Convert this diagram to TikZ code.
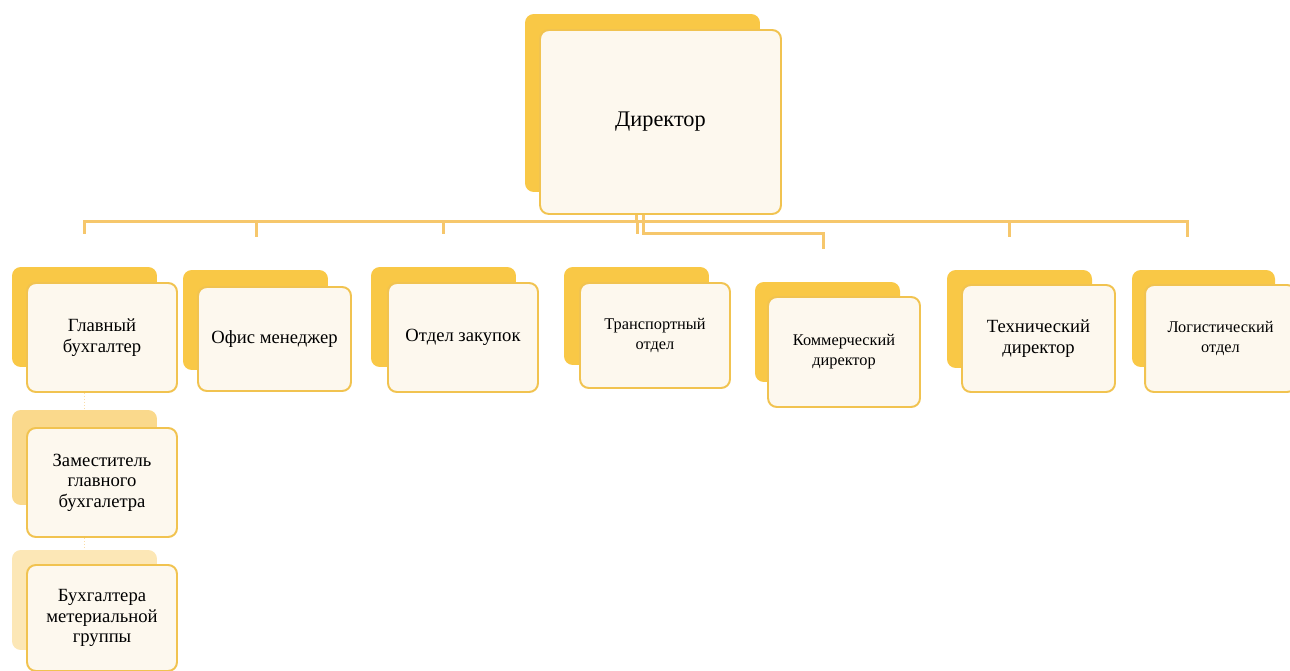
\documentclass[tikz,border=0pt]{standalone}
\usepackage{fontspec}
\setmainfont{Liberation Serif}
\usetikzlibrary{backgrounds}
\definecolor{zolotoTemn}{HTML}{F9C846}
\definecolor{zolotoSvetl}{HTML}{FAD98C}
\definecolor{zolotoBled}{HTML}{FCE7B6}
\definecolor{kremKart}{HTML}{FDF8EE}
\definecolor{ramkaKart}{HTML}{F1C350}
\definecolor{liniyaOrg}{HTML}{F6C76C}

\begin{document}
\begin{tikzpicture}[x=0.02cm, y=-0.02cm,
    zadnik/.style={rectangle, rounded corners=5pt, fill=zolotoTemn, draw=none,
                   minimum width=2.9cm, minimum height=2cm},
    kartochka/.style={rectangle, rounded corners=5pt, draw=ramkaKart, line width=1.1pt, fill=kremKart,
                      minimum width=3cm, minimum height=2.18cm, align=center,
                      font=\fontsize{10.6}{12}\selectfont},
    melkiy/.style={font=\fontsize{9.3}{11.5}\selectfont},
    liniya/.style={draw=liniyaOrg, line width=1.4pt, shorten >=0.66cm},
    punktir/.style={draw=liniyaOrg!60, line width=0.7pt, densely dotted}
  ]
  \useasboundingbox (0,0) rectangle (1290,671);

  % Директор
  \node[zadnik, minimum width=4.7cm, minimum height=3.56cm] (dir-z) at (642.5,103) {};
  \node[kartochka, minimum width=4.82cm, minimum height=3.68cm, font=\fontsize{12.7}{15}\selectfont] (dir) at (660.5,122) {Директор};

  % Отделы (первый уровень)
  \node[zadnik] (glbuh-z) at (84.5,317) {};
  \node[kartochka] (glbuh) at (102,337.5) {Главный\\бухгалтер};
  \node[zadnik] (ofis-z) at (255.5,320) {};
  \node[kartochka, minimum width=3.06cm, minimum height=2.08cm] (ofis) at (274.5,339) {Офис менеджер};
  \node[zadnik] (zak-z) at (443.5,317) {};
  \node[kartochka] (zak) at (463,337.5) {Отдел закупок};
  \node[zadnik, minimum height=1.96cm] (trans-z) at (636.5,316) {};
  \node[kartochka, melkiy, minimum height=2.1cm] (trans) at (655,335.5) {Транспортный\\отдел};
  \node[zadnik] (kom-z) at (827.5,332) {};
  \node[kartochka, melkiy, minimum width=3.04cm, minimum height=2.2cm] (kom) at (844,352) {Коммерческий\\директор};
  \node[zadnik, minimum height=1.96cm] (tech-z) at (1019.5,319) {};
  \node[kartochka, minimum width=3.06cm, minimum height=2.14cm] (tech) at (1038.5,338.5) {Технический\\директор};
  \node[zadnik, minimum width=2.86cm, minimum height=1.94cm] (log-z) at (1203.5,318.5) {};
  \node[kartochka, melkiy, minimum width=3.02cm, minimum height=2.14cm] (log) at (1220.5,338.5) {Логистический\\отдел};

  % Бухгалтерия
  \node[zadnik, fill=zolotoSvetl, minimum height=1.9cm] (zam-z) at (84.5,457.5) {};
  \node[kartochka, font=\fontsize{10.6}{11.6}\selectfont] (zam) at (102,482.5) {Заместитель\\главного\\бухгалетра};
  \node[zadnik, fill=zolotoBled] (buh-z) at (84.5,600) {};
  \node[kartochka, minimum height=2.12cm, font=\fontsize{10.6}{11.6}\selectfont] (buh) at (102,618) {Бухгалтера\\метериальной\\группы};

  % Связи
  \begin{scope}[on background layer]
    \foreach \n/\dx in {glbuh/0, ofis/1, zak/0, trans/1, tech/-10, log/-16} {
      \draw[liniya] ([xshift=-0.12cm]dir-z.south) -- ++(0,29) -| ([xshift=\dx*0.02cm]\n-z.north);
    }
    \draw[liniya] ([xshift=0.02cm]dir-z.south) -- ++(0,41) -| ([xshift=-4*0.02cm]kom-z.north);
    \draw[punktir] (glbuh-z.south |- glbuh.south) -- (zam-z.north);
    \draw[punktir] (zam-z.south |- zam.south) -- (buh-z.north);
  \end{scope}
\end{tikzpicture}
\end{document}
